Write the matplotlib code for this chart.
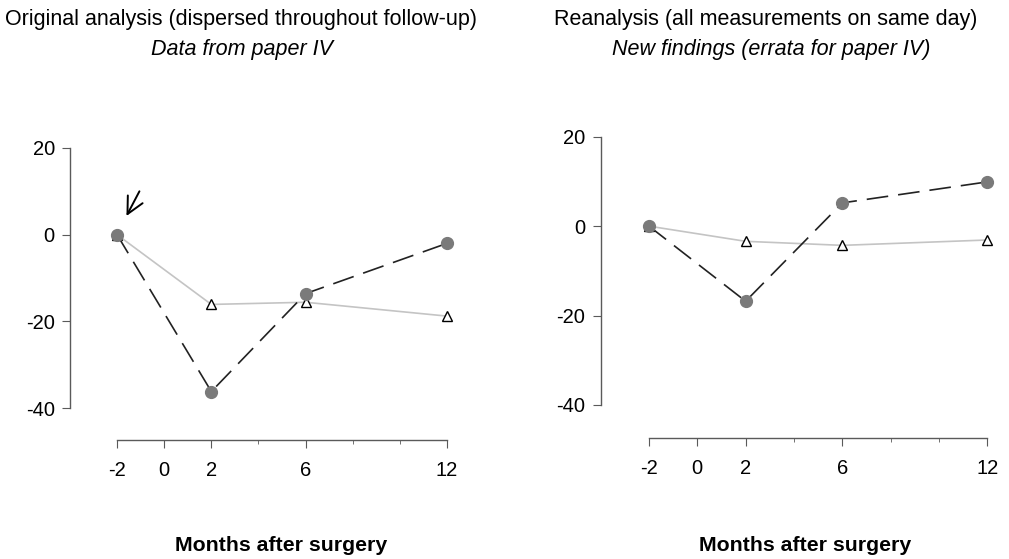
import numpy as np
import matplotlib
matplotlib.use("Agg")
import matplotlib.pyplot as plt

plt.rcParams["font.family"] = ["Liberation Sans", "DejaVu Sans"]
plt.rcParams["axes.unicode_minus"] = False

months = [-2, 2, 6, 12]
orig_circle = [0, -36.2, -13.6, -2.0]
orig_triangle = [0, -16.1, -15.6, -18.8]
re_circle = [0, -16.8, 5.2, 9.9]
re_triangle = [0, -3.4, -4.3, -3.1]

xticks_major = [-2, 0, 2, 6, 12]
xticks_minor = [4, 8, 10]
yticks = [-40, -20, 0, 20]

titles = ["Original analysis (dispersed throughout follow-up)",
          "Reanalysis (all measurements on same day)"]
subtitles = ["Data from paper IV", "New findings (errata for paper IV)"]

CIRCLE = "#7a7a7a"
LIGHT = "#c4c4c4"
SPINE = "#5a5a5a"

fig = plt.figure(figsize=(10.09, 5.59), dpi=100)
ax1 = fig.add_axes([0.1043, 0.2546, 0.3505, 0.4962])
ax2 = fig.add_axes([0.6312, 0.2596, 0.3593, 0.5118])


def draw(ax, circ, tri, out_left, out_bottom):
    ax.plot(months, tri, "-", color=LIGHT, lw=1.2, zorder=2)
    ax.plot(months, tri, "^", ms=7.5, mfc="white", mec="black", mew=1.0, zorder=4)
    ax.plot(months, circ, color="#222222", lw=1.2, dashes=(13, 6), zorder=3)
    ax.plot(months, circ, "o", ms=8.5, color=CIRCLE, zorder=5)
    ax.set_xlim(-2.5, 12.5)
    ax.set_ylim(-42, 22)
    for s in ["top", "right"]:
        ax.spines[s].set_visible(False)
    ax.spines["left"].set_position(("outward", out_left))
    ax.spines["bottom"].set_position(("outward", out_bottom))
    ax.spines["left"].set_bounds(-40, 20)
    ax.spines["bottom"].set_bounds(-2, 12)
    for s in ["left", "bottom"]:
        ax.spines[s].set_color(SPINE)
        ax.spines[s].set_linewidth(1.0)
    ax.set_yticks(yticks)
    ax.set_xticks(xticks_major)
    ax.set_xticks(xticks_minor, minor=True)
    ax.tick_params(axis="both", which="major", length=6, color=SPINE,
                   labelsize=14.5, pad=9)
    ax.tick_params(axis="y", which="major", pad=5)
    ax.tick_params(axis="x", which="minor", length=3, color=SPINE)
    ax.patch.set_alpha(0)


draw(ax1, orig_circle, orig_triangle, 25.3, 16.8)
draw(ax2, re_circle, re_triangle, 26.1, 17.4)

# arrow pointing at baseline value
ax1.annotate("", xy=(-1.6, 4.3), xytext=(-1.05, 10.0),
             arrowprops=dict(arrowstyle="->,head_length=0.5,head_width=0.25",
                             color="black", lw=1.4, mutation_scale=24,
                             shrinkA=0, shrinkB=0))

for cx, scx, t, st in zip([0.239, 0.759], [0.240, 0.764], titles, subtitles):
    fig.text(cx, 0.966, t, ha="center", va="center", fontsize=15.5)
    fig.text(scx, 0.911, st, ha="center", va="center", fontsize=15.5,
             style="italic")

fig.text(0.2785, 0.025, "Months after surgery", ha="center", va="center",
         fontsize=15.3, weight="bold")
fig.text(0.7978, 0.025, "Months after surgery", ha="center", va="center",
         fontsize=15.3, weight="bold")

fig.savefig("out.png", dpi=100)
